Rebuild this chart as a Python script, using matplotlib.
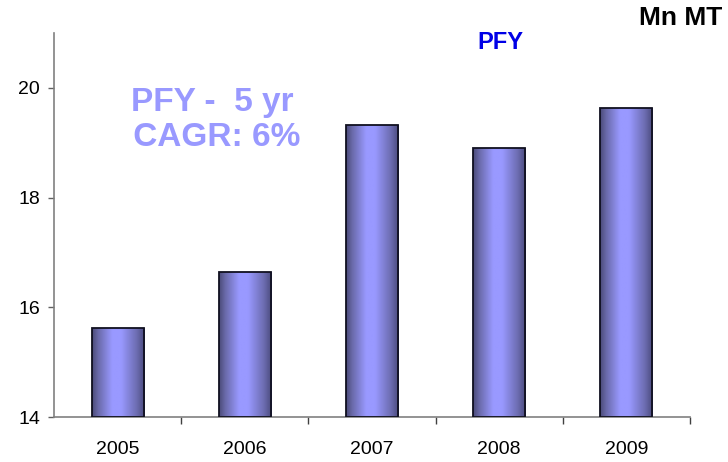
import numpy as np
import matplotlib
matplotlib.use("Agg")
import matplotlib.pyplot as plt
from matplotlib.colors import LinearSegmentedColormap

plt.rcParams['font.family'] = ['Liberation Sans', 'DejaVu Sans']

years = ["2005", "2006", "2007", "2008", "2009"]
pfy = [15.62, 16.65, 19.32, 18.90, 19.64]
y_ticks = [14, 16, 18, 20]

fig = plt.figure(figsize=(7.28, 4.62), dpi=100)
ax = fig.add_axes([0.0742, 0.0974, 0.8736, 0.8312])

x = np.arange(len(years))
bars = ax.bar(x, np.array(pfy) - 14, bottom=14, width=0.41,
              facecolor='none', edgecolor='#101020', linewidth=1.3, zorder=3)

# Cylinder-style horizontal shading for each bar
shade = LinearSegmentedColormap.from_list(
    'cyl', [(0.0, '#4a4a78'), (0.12, '#6a6aaa'), (0.38, '#9999ff'),
            (0.55, '#9999ff'), (0.85, '#6c6cb0'), (1.0, '#4a4a7c')])
grad = np.linspace(0, 1, 256).reshape(1, -1)
for b in bars:
    x0, y0 = b.get_x(), b.get_y()
    w, h = b.get_width(), b.get_height()
    im = ax.imshow(grad, cmap=shade, aspect='auto', interpolation='bilinear',
                   extent=(x0, x0 + w, y0, y0 + h), zorder=2)
    im.set_clip_path(b)

ax.set_xlim(-0.5, len(years) - 0.5)
ax.set_ylim(14, 21)
ax.set_yticks(y_ticks)
ax.set_yticklabels([str(t) for t in y_ticks])
ax.set_xticks(x)
ax.set_xticklabels(years)
ax.set_xticks(np.arange(len(years)) + 0.5, minor=True)

for side in ('top', 'right'):
    ax.spines[side].set_visible(False)
for side in ('left', 'bottom'):
    ax.spines[side].set_color('#808080')
    ax.spines[side].set_linewidth(1.2)

ax.tick_params(axis='y', direction='out', length=4, width=1, color='#606060',
               labelsize=14, pad=6)
ax.tick_params(axis='x', which='major', length=0, labelsize=14, pad=17)
ax.tick_params(axis='x', which='minor', direction='out', length=5, width=1,
               color='#404040')

fig.text(0.687, 0.909, "PFY", color='#0000e6', fontsize=17, fontweight='bold',
         ha='center', va='center')
fig.text(0.992, 0.961, "Mn MT", color='black', fontsize=19, fontweight='bold',
         ha='right', va='center')
fig.text(0.292, 0.740, "PFY -  5 yr\n CAGR: 6%", color='#9999ff', fontsize=24,
         fontweight='bold', ha='center', va='center', linespacing=1.17)

fig.savefig("out.png", dpi=100)
